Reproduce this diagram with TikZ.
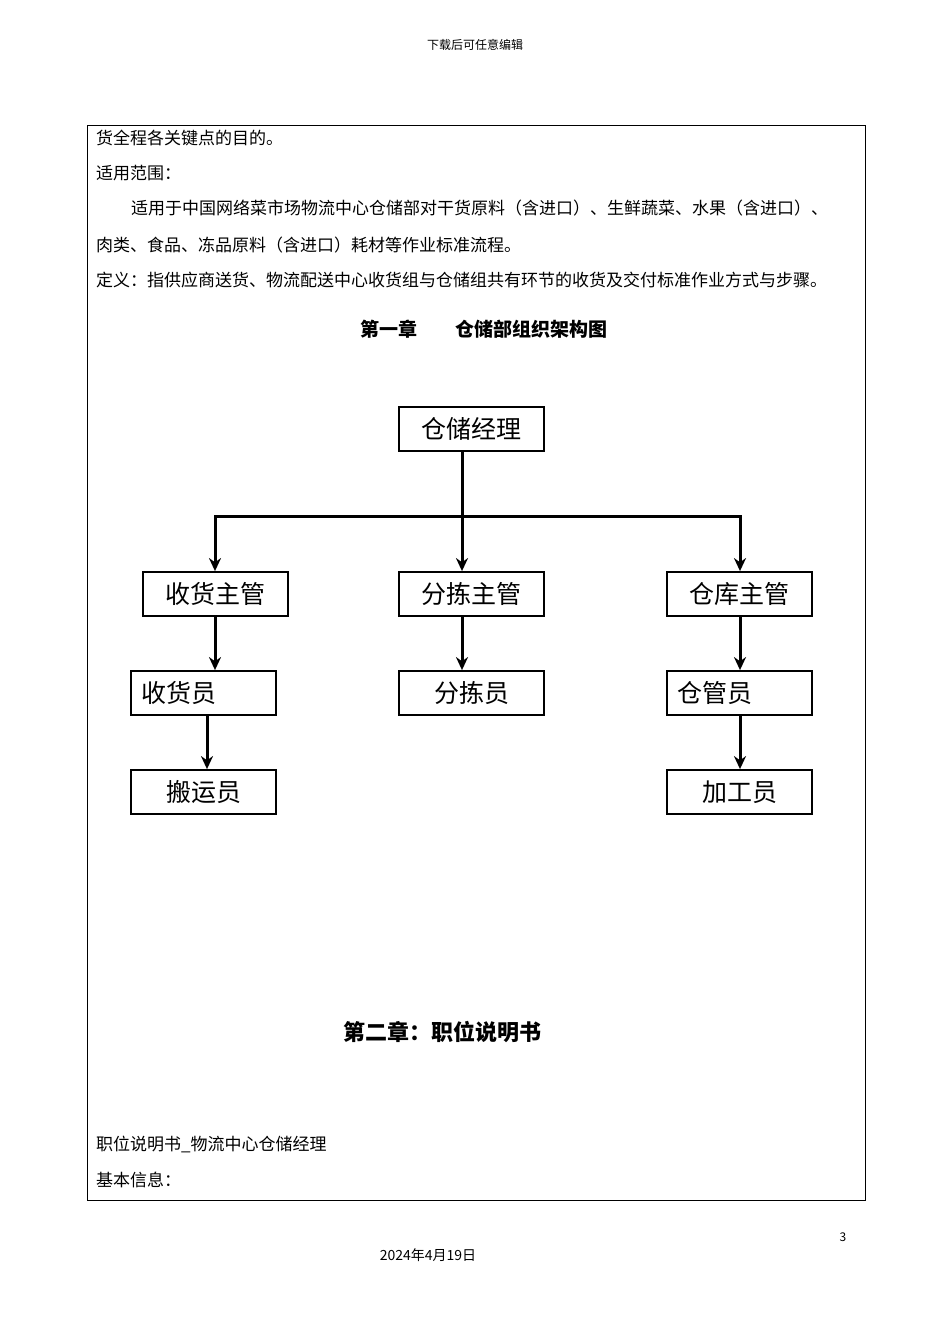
\documentclass[tikz,border=0pt]{standalone}
\usepackage{fontspec}
\usetikzlibrary{arrows.meta}
\setmainfont{Noto Sans CJK SC}
\begin{document}
\begin{tikzpicture}[x=1pt,y=-1pt,
  box/.style={draw,line width=1.8pt,minimum width=145pt,minimum height=44pt,inner sep=0pt,font=\fontsize{25}{27}\selectfont},
  txt/.style={anchor=west,inner sep=0pt,font=\fontsize{17}{20}\selectfont},
  conn/.style={line width=3pt,-{Stealth[length=13pt,width=12pt]}}]
\useasboundingbox[fill=white] (0,0) rectangle (950,1344);
\node (hdr) at (475,45) {\fontsize{12}{14}\selectfont 下载后可任意编辑};
\draw[line width=0.8pt] (87,125) rectangle (865,1200);
\node[txt] (t1) at (96,138) {货全程各关键点的目的。};
\node[txt] (t2) at (96,173) {适用范围：};
\node[txt] (t3) at (131,208) {适用于中国网络菜市场物流中心仓储部对干货原料（含进口）、生鲜蔬菜、水果（含进口）、};
\node[txt] (t4) at (96,245) {肉类、食品、冻品原料（含进口）耗材等作业标准流程。};
\node[txt] (t5) at (96,280) {定义：指供应商送货、物流配送中心收货组与仓储组共有环节的收货及交付标准作业方式与步骤。};
\node (c1) at (484,329) {\fontsize{19}{22}\selectfont\bfseries 第一章\hspace{2em}仓储部组织架构图};
\node[box] (mgr) at (471.5,429) {仓储经理};
\node[box] (r1) at (215.5,594) {收货主管};
\node[box] (s1) at (471.5,594) {分拣主管};
\node[box] (w1) at (739.5,594) {仓库主管};
\node[box,text width=125pt,align=left] (r2) at (203.5,693) {收货员};
\node[box] (s2) at (471.5,693) {分拣员};
\node[box,text width=125pt,align=left] (w2) at (739.5,693) {仓管员};
\node[box] (r3) at (203.5,792) {搬运员};
\node[box] (w3) at (739.5,792) {加工员};
\coordinate (bus) at (462,516);
\coordinate (busL) at (215,516);
\coordinate (busR) at (740,516);
\draw[line width=3pt] (mgr.south -| bus) -- (bus);
\draw[line width=3pt,line cap=rect] (busL) -- (busR);
\draw[conn] (busL) -- (busL |- r1.north);
\draw[conn] (bus) -- (bus |- s1.north);
\draw[conn] (busR) -- (busR |- w1.north);
\draw[conn] (busL |- r1.south) -- (busL |- r2.north);
\draw[conn] (bus |- s1.south) -- (bus |- s2.north);
\draw[conn] (busR |- w1.south) -- (busR |- w2.north);
\coordinate (rx) at (207,0);
\draw[conn] (rx |- r2.south) -- (rx |- r3.north);
\draw[conn] (busR |- w2.south) -- (busR |- w3.north);
\node (c2) at (442,1032) {\fontsize{22}{26}\selectfont\bfseries 第二章：职位说明书};
\node[txt] (t6) at (96,1144) {职位说明书\_物流中心仓储经理};
\node[txt] (t7) at (96,1180) {基本信息：};
\node (pg) at (843,1237) {\fontsize{12}{14}\selectfont 3};
\node (dt) at (428,1255) {\fontsize{14}{16}\selectfont 2024年4月19日};
\end{tikzpicture}
\end{document}
